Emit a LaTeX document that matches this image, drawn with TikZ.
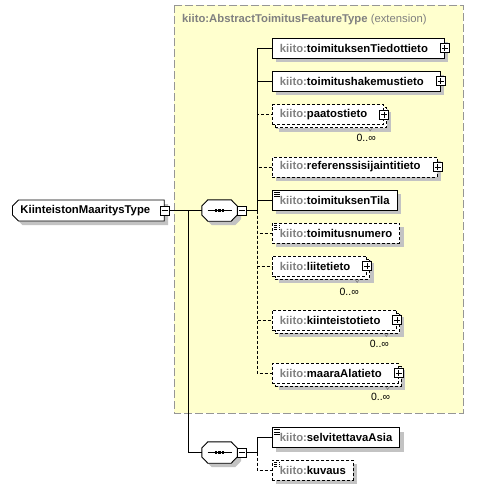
\documentclass[tikz,border=0pt]{standalone}
\usepackage{fontspec}
\setmainfont{Liberation Sans}
\usetikzlibrary{shapes.misc,shadows,calc,positioning}
\definecolor{extyellow}{RGB}{255,255,206}
\definecolor{extgray}{RGB}{150,150,150}
\definecolor{prefixgray}{RGB}{128,128,128}
\definecolor{shadowgray}{RGB}{195,195,195}
\newcommand\elemfont{\fontsize{11.3}{13}\selectfont\bfseries}
\newcommand\multfont{\fontsize{10.5}{12}\selectfont}
\newcommand\kiito{\textcolor{prefixgray}{kiito:}}
% sekvenssin kahdeksankulmio solmun (#1) ympari
\newcommand\seqshape[1]{%
  \draw[seqline] ($(#1.west)+(0,-4.5)$) -- ($(#1.north west)+(6,0)$) -- ($(#1.north east)+(-6,0)$)
    -- ($(#1.east)+(0,-4.5)$) -- ($(#1.east)+(0,4.5)$) -- ($(#1.south east)+(-6,0)$)
    -- ($(#1.south west)+(6,0)$) -- ($(#1.west)+(0,4.5)$) -- cycle;
  \draw[link] ($(#1.center)+(-12,0)$) -- ($(#1.center)+(12,0)$);
  \fill ($(#1.center)+(-4.3,-1.4)$) rectangle +(2.2,2.8);
  \fill ($(#1.center)+(-1.1,-1.4)$) rectangle +(2.2,2.8);
  \fill ($(#1.center)+(2.1,-1.4)$) rectangle +(2.2,2.8);}
\tikzset{
  shad/.style={drop shadow={shadow xshift=4pt, shadow yshift=-4pt, fill=shadowgray, opacity=1}},
  elem/.style={draw, fill=white, line width=0.9pt, rectangle, anchor=west, minimum height=20pt,
    inner xsep=7.5pt, inner ysep=0pt, font=\elemfont, shad},
  opt/.style={dash pattern=on 3pt off 2pt},
  multi/.style={drop shadow={shadow xshift=7pt, shadow yshift=-7pt, fill=shadowgray, opacity=1},
    copy shadow={shadow xshift=3pt, shadow yshift=-3pt, fill=white, draw=black,
      line width=0.9pt, dash pattern=on 3pt off 2pt}},
  cplx/.style={execute at end node=\hspace*{9pt}},
  simp/.style={path picture={
    \draw[line width=0.8pt] ($(path picture bounding box.north west)+(2,2.2)$) -- +(6,0)
      ($(path picture bounding box.north west)+(2,4.4)$) -- +(6,0)
      ($(path picture bounding box.north west)+(2,6.6)$) -- +(6,0);}},
  plusbox/.style={draw, fill=white, line width=0.8pt, minimum size=9pt, inner sep=0pt,
    path picture={\draw[line width=0.8pt]
      ($(path picture bounding box.west)+(1.5,0)$) -- ($(path picture bounding box.east)+(-1.5,0)$)
      ($(path picture bounding box.north)+(0,1.5)$) -- ($(path picture bounding box.south)+(0,-1.5)$);}},
  minusbox/.style={draw, fill=white, line width=0.8pt, minimum size=9pt, inner sep=0pt,
    path picture={\draw[line width=0.8pt]
      ($(path picture bounding box.west)+(1.5,0)$) -- ($(path picture bounding box.east)+(-1.5,0)$);}},
  seq/.style={rectangle, minimum width=35pt, minimum height=21pt, inner sep=0pt},
  seqline/.style={draw, fill=white, line width=0.9pt, shad},
  ctype/.style={draw, fill=white, line width=0.9pt, chamfered rectangle,
    chamfered rectangle corners={north west, south west},
    chamfered rectangle xsep=3pt, chamfered rectangle ysep=3pt,
    anchor=west, minimum height=21pt, inner xsep=5pt, inner ysep=0pt, font=\elemfont, shad},
  mult/.style={font=\multfont, inner sep=0pt},
  tick/.style={draw=prefixgray, line width=0.6pt},
  link/.style={line width=0.9pt},
  optlink/.style={link, dash pattern=on 3pt off 2pt},
}
\begin{document}
\begin{tikzpicture}[x=1pt, y=-1pt]
\useasboundingbox (0,0) rectangle (478,490);

% Laajennus
\draw[fill=extyellow, draw=extgray, line width=0.9pt, dash pattern=on 8pt off 3pt] (174,5) rectangle (463,413);
\node[anchor=west, inner sep=0pt, text=prefixgray, font=\fontsize{11.3}{13}\selectfont] (title) at (182,20)
  {\textbf{kiito:AbstractToimitusFeatureType} (extension)};

% Tyyppi ja sekvenssit
\node[ctype, execute at end node=\hspace*{6pt}] (root) at (12,210.5) {KiinteistonMaaritysType};
\node[minusbox] (rm) at (root.east) {};
\node[seq] (q1) at (219.5,210.5) {};
\seqshape{q1}
\node[minusbox, anchor=west] (qm1) at (q1.east) {};
\node[seq] (q2) at (219.5,452.5) {};
\seqshape{q2}
\node[minusbox, anchor=west] (qm2) at (q2.east) {};

% Elementit
\node[elem, cplx] (e1) at (272,48) {\kiito toimituksenTiedottieto};
\node[elem, cplx] (e2) at (272,81) {\kiito toimitushakemustieto};
\node[elem, opt, multi, cplx] (e3) at (272,114.5) {\kiito paatostieto};
\node[elem, opt, cplx] (e4) at (272,167) {\kiito referenssisijaintitieto};
\node[elem, simp] (e5) at (272,200) {\kiito toimituksenTila};
\node[elem, opt, simp] (e6) at (272,233) {\kiito toimitusnumero};
\node[elem, opt, multi, cplx] (e7) at (272,266) {\kiito liitetieto};
\node[elem, opt, multi, cplx] (e8) at (272,320) {\kiito kiinteistotieto};
\node[elem, opt, multi, cplx] (e9) at (272,373) {\kiito maaraAlatieto};
\node[elem, simp] (s1) at (272,437.5) {\kiito selvitettavaAsia};
\node[elem, opt, simp] (s2) at (272,470) {\kiito kuvaus};

\node[plusbox] (p1) at (e1.east) {};
\node[plusbox] (p2) at (e2.east) {};
\node[plusbox] (p3) at (e3.east) {};
\node[plusbox] (p4) at (e4.east) {};
\node[plusbox] (p7) at (e7.east) {};
\node[plusbox] (p8) at (e8.east) {};
\node[plusbox] (p9) at (e9.east) {};

% Esiintymat
\node[mult] (m3) at ([xshift=-18pt, yshift=-13pt]e3.south east) {0..∞};
\node[mult] (m7) at ([xshift=-18pt, yshift=-15pt]e7.south east) {0..∞};
\node[mult] (m8) at ([xshift=-18pt, yshift=-13pt]e8.south east) {0..∞};
\node[mult] (m9) at ([xshift=-18pt, yshift=-13pt]e9.south east) {0..∞};
\draw[tick] ([xshift=-16pt, yshift=-3pt]e3.south east) -- ++(2,3) -- ++(2,-3);
\draw[tick] ([xshift=-12pt, yshift=-3pt]e7.south east) -- ++(2,3) -- ++(2,-3);
\draw[tick] ([xshift=-13pt, yshift=-3pt]e8.south east) -- ++(2,3) -- ++(2,-3);
\draw[tick] ([xshift=-13pt, yshift=-3pt]e9.south east) -- ++(2,3) -- ++(2,-3);

% Yhteydet
\coordinate (j0) at (188,210.5);
\coordinate (j1) at (257,210.5);
\coordinate (j2) at (257,452.5);
\draw[link] (rm.east) -- (q1.west);
\draw[link] (j0) |- (q2.west);
\draw[link] (qm1.east) -- (j1);
\draw[link] (qm2.east) -- (j2);
\draw[link] (j1) |- (e1.west);
\draw[link] (j1) |- (e2.west);
\draw[optlink] (j1) |- (e3.west);
\draw[optlink] (j1) |- (e4.west);
\draw[link] (j1) |- (e5.west);
\draw[optlink] (j1) |- (e6.west);
\draw[optlink] (j1) |- (e7.west);
\draw[optlink] (j1) |- (e8.west);
\draw[optlink] (j1) |- (e9.west);
\draw[link] (j2) |- (s1.west);
\draw[optlink] (j2) |- (s2.west);
\end{tikzpicture}
\end{document}
